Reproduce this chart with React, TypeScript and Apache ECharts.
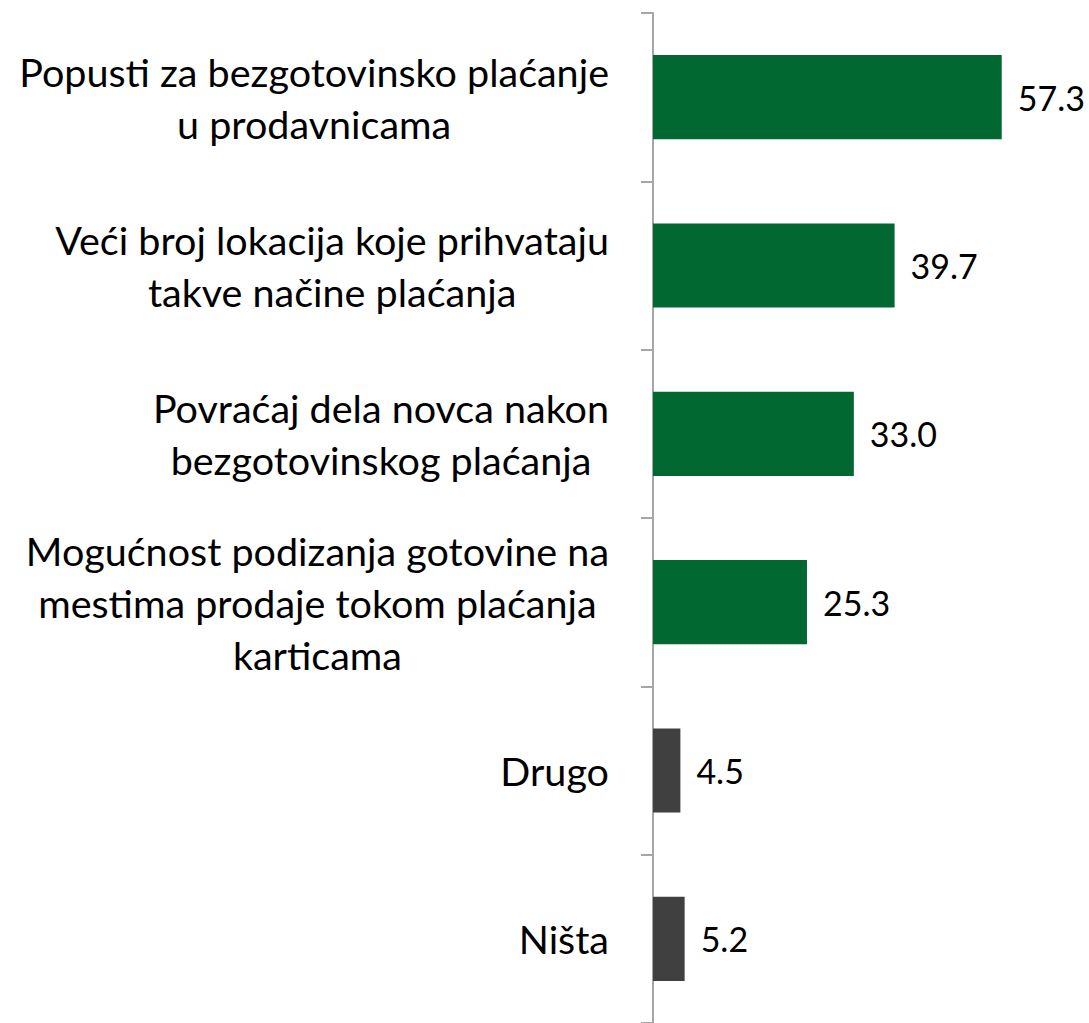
import React, { useEffect, useRef } from "react";
import * as echarts from "echarts";

const categories: string[] = [
  "Popusti za bezgotovinsko plaćanje\nu prodavnicama",
  "Veći broj lokacija koje prihvataju\ntakve načine plaćanja",
  "Povraćaj dela novca nakon\nbezgotovinskog plaćanja",
  "Mogućnost podizanja gotovine na\nmestima prodaje tokom plaćanja\nkarticama",
  "Drugo",
  "Ništa",
];
const values: number[] = [57.3, 39.7, 33.0, 25.3, 4.5, 5.2];
const barColors: string[] = ["#006830", "#006830", "#006830", "#006830", "#404040", "#404040"];

const FONT = "Lato";

export default function App() {
  const ref = useRef<HTMLDivElement>(null);
  useEffect(() => {
    if (!ref.current) return;
    const chart = echarts.init(ref.current, null, { renderer: "svg" });
    chart.setOption({
      animation: false,
      grid: { left: 653, right: 10, top: 13, bottom: -4, containLabel: false },
      xAxis: {
        type: "value",
        min: 0,
        max: 70,
        show: false,
      },
      yAxis: {
        type: "category",
        inverse: true,
        data: categories,
        axisLine: { show: true, lineStyle: { color: "#a6a6a6", width: 2 } },
        axisTick: { show: true, length: 12, lineStyle: { color: "#a6a6a6", width: 2 } },
        splitLine: { show: false },
        axisLabel: {
          margin: 44,
          formatter: (v: string) => v.split("\n").map((l) => `{c|${l}}`).join("\n"),
          rich: {
            c: {
              align: "center",
              fontSize: 39.5,
              fontFamily: FONT,
              lineHeight: 52,
              color: "#000000",
            },
          },
        },
      },
      series: [
        {
          type: "bar",
          barCategoryGap: "50%",
          data: values.map((v, i) => ({ value: v, itemStyle: { color: barColors[i] } })),
          label: {
            show: true,
            position: "right",
            distance: 16,
            formatter: (p: any) => Number(p.value).toFixed(1),
            fontSize: 34,
            fontFamily: FONT,
            color: "#000000",
          },
        },
      ],
    });
    return () => chart.dispose();
  }, []);
  return (
    <div
      ref={ref}
      style={{ position: "absolute", left: 0, top: 0, width: 1089, height: 1023 }}
    />
  );
}
